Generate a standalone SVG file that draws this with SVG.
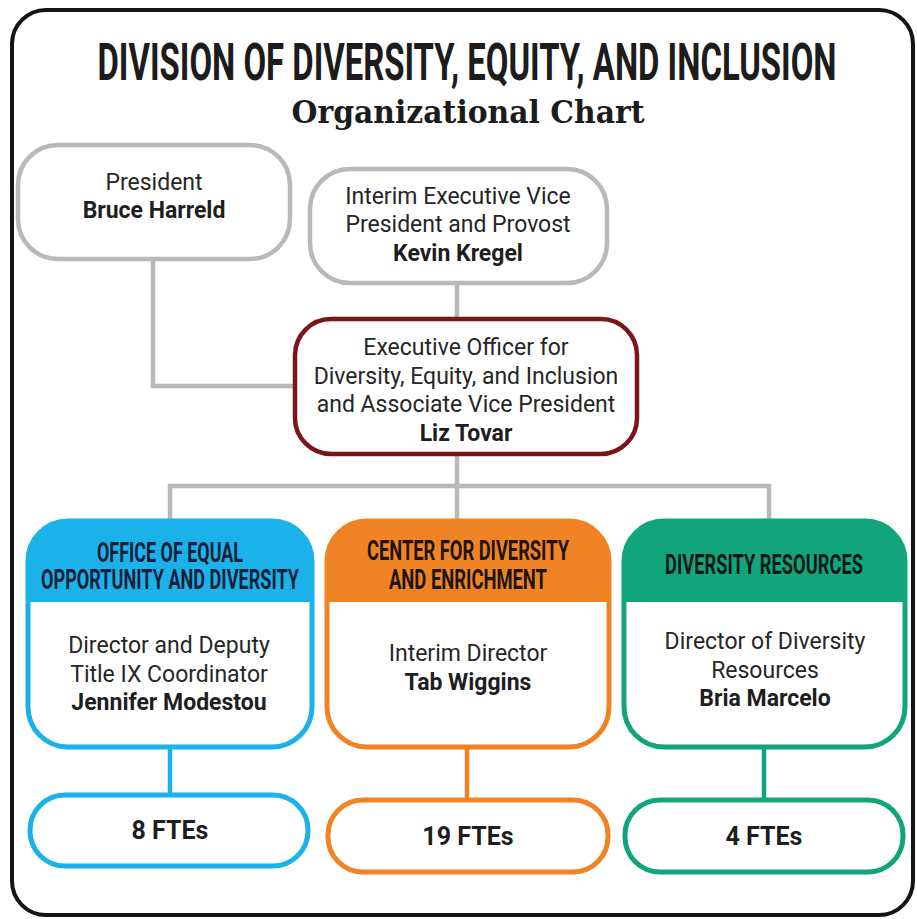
<svg xmlns="http://www.w3.org/2000/svg" width="917" height="919" viewBox="0 0 917 919">
<style>
  .frame{fill:#fff;stroke:#141414;stroke-width:4}
  .gbox{fill:#fff;stroke:#b9b9b9;stroke-width:4.5}
  .conn{fill:none;stroke:#b9b9b9;stroke-width:4.5}
  .t{font-family:Roboto,"Liberation Sans",sans-serif;font-size:23px;fill:#262626;text-anchor:middle}
  .b{font-weight:bold;fill:#1e1e1e}
  .hd{font-family:Roboto,"Liberation Sans",sans-serif;font-weight:bold;font-size:27px;text-anchor:middle}
  .fte{font-family:Roboto,"Liberation Sans",sans-serif;font-weight:bold;font-size:25px;fill:#1e1e1e;text-anchor:middle}
</style>
<rect class="frame" x="12" y="10" width="901" height="905" rx="34"/>
<g id="title">
  <text x="467" y="80" font-family="Roboto,'Liberation Sans',sans-serif" font-weight="bold" font-size="52" fill="#1c1c1c" text-anchor="middle" textLength="739" lengthAdjust="spacingAndGlyphs">DIVISION OF DIVERSITY, EQUITY, AND INCLUSION</text>
  <text x="468" y="123" font-family="'DejaVu Serif','Liberation Serif',serif" font-weight="bold" font-size="32" fill="#1c1c1c" text-anchor="middle" textLength="353" lengthAdjust="spacingAndGlyphs">Organizational Chart</text>
</g>
<g id="connectors">
  <path class="conn" d="M153 260 V386 H296"/>
  <path class="conn" d="M457 283 V320"/>
  <path class="conn" d="M457 455 V522"/>
  <path class="conn" d="M170 522 V486 H769 V522"/>
  <path d="M170 747 V795" stroke="#1bb2e9" stroke-width="4.5"/>
  <path d="M467 747 V800" stroke="#f08324" stroke-width="4.5"/>
  <path d="M764 747 V800" stroke="#12a57c" stroke-width="4.5"/>
</g>
<g id="president">
  <rect class="gbox" x="18" y="145" width="272" height="114" rx="40"/>
  <text class="t" x="154" y="190">President</text>
  <text class="t b" x="154" y="218">Bruce Harreld</text>
</g>
<g id="provost">
  <rect class="gbox" x="310" y="169" width="297" height="114" rx="40"/>
  <text class="t" x="458" y="204">Interim Executive Vice</text>
  <text class="t" x="458" y="232">President and Provost</text>
  <text class="t b" x="458" y="261">Kevin Kregel</text>
</g>
<g id="executive">
  <rect x="295" y="319" width="342" height="135" rx="36" fill="#fff" stroke="#7b1518" stroke-width="4.5"/>
  <text class="t" x="466" y="355">Executive Officer for</text>
  <text class="t" x="466" y="384">Diversity, Equity, and Inclusion</text>
  <text class="t" x="466" y="412">and Associate Vice President</text>
  <text class="t b" x="466" y="441">Liz Tovar</text>
</g>
<g id="oeod">
  <rect x="28" y="521" width="284" height="226" rx="40" fill="#fff" stroke="#1bb2e9" stroke-width="5"/>
  <path d="M28 602 V561 A40 40 0 0 1 68 521 H272 A40 40 0 0 1 312 561 V602 Z" fill="#1bb2e9"/>
  <text class="hd" x="170" y="562" fill="#16203a" textLength="146" lengthAdjust="spacingAndGlyphs">OFFICE OF EQUAL</text>
  <text class="hd" x="170" y="589" fill="#16203a" textLength="258" lengthAdjust="spacingAndGlyphs">OPPORTUNITY AND DIVERSITY</text>
  <text class="t" x="169" y="653">Director and Deputy</text>
  <text class="t" x="169" y="682">Title IX Coordinator</text>
  <text class="t b" x="169" y="710">Jennifer Modestou</text>
</g>
<g id="cde">
  <rect x="327" y="521" width="282" height="226" rx="40" fill="#fff" stroke="#f08324" stroke-width="5"/>
  <path d="M327 602 V561 A40 40 0 0 1 367 521 H569 A40 40 0 0 1 609 561 V602 Z" fill="#f08324"/>
  <text class="hd" x="468" y="560" fill="#1c1410" textLength="202" lengthAdjust="spacingAndGlyphs">CENTER FOR DIVERSITY</text>
  <text class="hd" x="468" y="589" fill="#1c1410" textLength="158" lengthAdjust="spacingAndGlyphs">AND ENRICHMENT</text>
  <text class="t" x="468" y="661">Interim Director</text>
  <text class="t b" x="468" y="690">Tab Wiggins</text>
</g>
<g id="dr">
  <rect x="624" y="521" width="281" height="226" rx="40" fill="#fff" stroke="#12a57c" stroke-width="5"/>
  <path d="M624 602 V561 A40 40 0 0 1 664 521 H865 A40 40 0 0 1 905 561 V602 Z" fill="#12a57c"/>
  <text class="hd" x="764" y="574" fill="#0f1a16" textLength="198" lengthAdjust="spacingAndGlyphs">DIVERSITY RESOURCES</text>
  <text class="t" x="765" y="649">Director of Diversity</text>
  <text class="t" x="765" y="678">Resources</text>
  <text class="t b" x="765" y="706">Bria Marcelo</text>
</g>
<g id="fte-oeod">
  <rect x="30" y="795" width="278" height="71" rx="35" fill="#fff" stroke="#1bb2e9" stroke-width="5"/>
  <text class="fte" x="170" y="839">8 FTEs</text>
</g>
<g id="fte-cde">
  <rect x="328" y="800" width="280" height="72" rx="35" fill="#fff" stroke="#f08324" stroke-width="5"/>
  <text class="fte" x="468" y="845">19 FTEs</text>
</g>
<g id="fte-dr">
  <rect x="625" y="800" width="278" height="72" rx="35" fill="#fff" stroke="#12a57c" stroke-width="5"/>
  <text class="fte" x="764" y="845">4 FTEs</text>
</g>
</svg>
